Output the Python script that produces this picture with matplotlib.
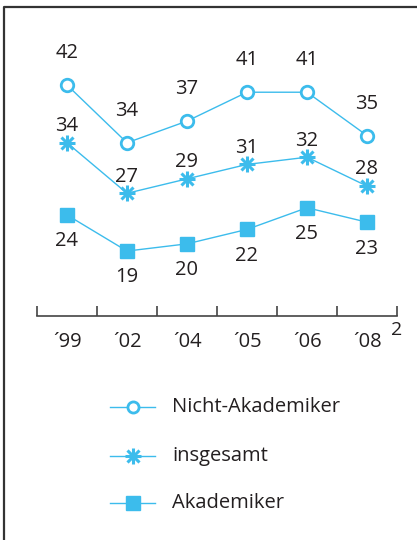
import matplotlib
matplotlib.use("Agg")
import matplotlib.pyplot as plt

plt.rcParams['font.family'] = ['Open Sans', 'DejaVu Sans']

years = ["´99", "´02", "´04", "´05", "´06", "´08"]
nicht_akademiker = [42, 34, 37, 41, 41, 35]
insgesamt = [34, 27, 29, 31, 32, 28]
akademiker = [24, 19, 20, 22, 25, 23]
series_labels = ["Nicht-Akademiker", "insgesamt", "Akademiker"]

W, H = 417, 540
blue = "#3cbcec"
txt = "#231f20"
fs = 14.5

fig = plt.figure(figsize=(W / 100, H / 100), dpi=100)

# main axes in pixel layout
ax_l, ax_r = 37, 397
ax_top, ax_bot = 40, 316
ax = fig.add_axes([ax_l / W, 1 - ax_bot / H, (ax_r - ax_l) / W, (ax_bot - ax_top) / H])
ax.set_xlim(0, len(years))
scale = 7.22
y_bot = 42 - (ax_bot - 85) / scale
y_top = 42 + (85 - ax_top) / scale
ax.set_ylim(y_bot, y_top)
for s in ["top", "right", "left"]:
    ax.spines[s].set_visible(False)
ax.spines["bottom"].set_color("#444444")
ax.spines["bottom"].set_linewidth(1.2)
ax.set_yticks([])
ax.set_xticks(range(len(years) + 1))
ax.set_xticklabels([])
ax.tick_params(axis="x", direction="in", length=7, width=1.2, color="#444444")

xs = [i + 0.5 for i in range(len(years))]
for x, lab in zip(xs, years):
    ax.annotate(lab, (x, 0), xycoords=("data", "axes fraction"), xytext=(0, -19),
                textcoords="offset points", ha="center", va="center", fontsize=fs, color=txt)
ax.annotate("2", (len(years), 0), xycoords=("data", "axes fraction"), xytext=(-4, -10),
            textcoords="offset points", ha="left", va="center", fontsize=14, color=txt)

# Nicht-Akademiker
ax.plot(xs, nicht_akademiker, color=blue, lw=1.0, marker="o", ms=9, mfc="white",
        mec=blue, mew=2.0, clip_on=False)
# insgesamt (asterisk from + and x)
ax.plot(xs, insgesamt, color=blue, lw=1.0, clip_on=False)
ax.plot(xs, insgesamt, ls="none", marker="+", ms=12, mew=2.2, color=blue, clip_on=False)
ax.plot(xs, insgesamt, ls="none", marker="x", ms=9, mew=2.2, color=blue, clip_on=False)
# Akademiker
ax.plot(xs, akademiker, color=blue, lw=1.0, marker="s", ms=10, mfc=blue, mec=blue,
        clip_on=False)

for x, v in zip(xs, nicht_akademiker):
    ax.annotate(str(v), (x, v), xytext=(0, 23), textcoords="offset points",
                ha="center", va="center", fontsize=fs, color=txt)
for x, v in zip(xs, insgesamt):
    ax.annotate(str(v), (x, v), xytext=(0, 12), textcoords="offset points",
                ha="center", va="center", fontsize=fs, color=txt)
for x, v in zip(xs, akademiker):
    ax.annotate(str(v), (x, v), xytext=(0, -19), textcoords="offset points",
                ha="center", va="center", fontsize=fs, color=txt)

# overlay axes in pixel coordinates for frame + legend
ov = fig.add_axes([0, 0, 1, 1])
ov.set_xlim(0, W)
ov.set_ylim(H, 0)
ov.axis("off")
ov.patch.set_alpha(0)
ov.plot([4.5, 4.5, W], [H, 6.5, 6.5], color="#333333", lw=1.6, solid_capstyle="butt")

leg_y = [407, 456, 503]
for y, lab, k in zip(leg_y, series_labels, range(3)):
    ov.plot([110, 155], [y, y], color=blue, lw=1.0)
    if k == 0:
        ov.plot([133], [y], marker="o", ms=8, mfc="white", mec=blue, mew=2.0)
    elif k == 1:
        ov.plot([133], [y], marker="+", ms=12, mew=2.2, color=blue)
        ov.plot([133], [y], marker="x", ms=9, mew=2.2, color=blue)
    else:
        ov.plot([133], [y], marker="s", ms=10, color=blue)
    ov.text(172, y, lab, ha="left", va="center", fontsize=fs, color=txt)

fig.savefig("out.png", dpi=100)
